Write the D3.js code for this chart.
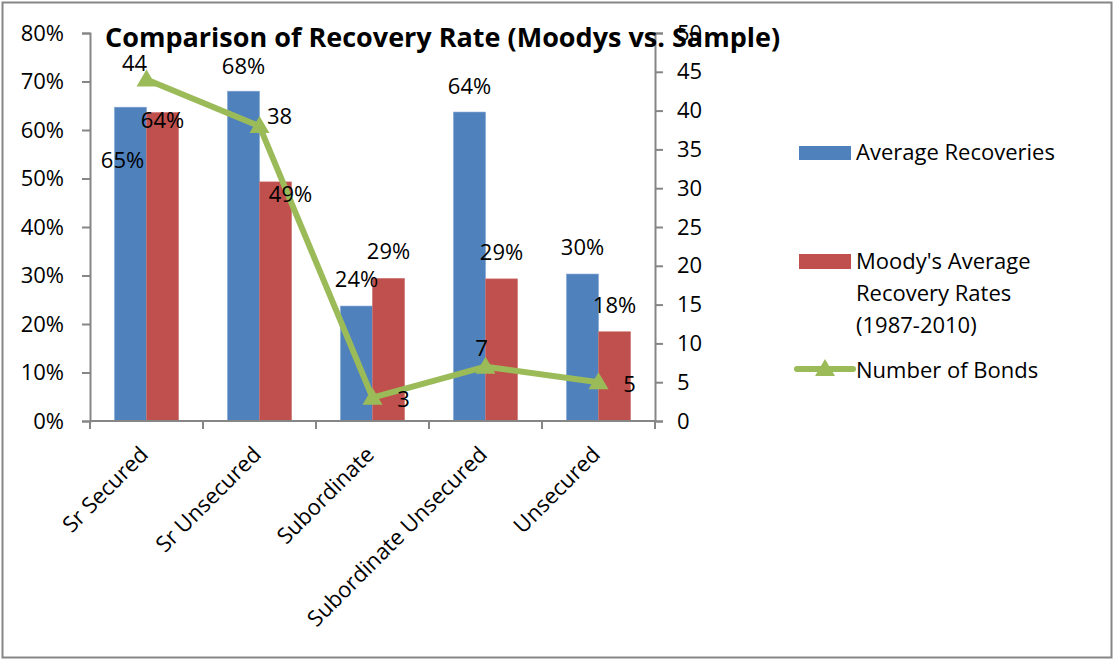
<!DOCTYPE html>
<html>
<head>
<meta charset="utf-8">
<script src="https://cdn.jsdelivr.net/npm/d3@7"></script>
<style>
  html, body { margin: 0; padding: 0; background: #fff; }
  svg text { font-family: "Open Sans", "Noto Sans", sans-serif; fill: #000; }
</style>
</head>
<body>
<svg id="chart" width="1114" height="660"></svg>
<script>
// ---- data ----
const categories = ["Sr Secured", "Sr Unsecured", "Subordinate", "Subordinate Unsecured", "Unsecured"];
const averageRecoveries = [0.647, 0.680, 0.237, 0.637, 0.303];
const moodysRates = [0.636, 0.493, 0.294, 0.293, 0.184];
const numberOfBonds = [44, 38, 3, 7, 5];
const leftTicks = [0, 0.1, 0.2, 0.3, 0.4, 0.5, 0.6, 0.7, 0.8];
const rightTicks = [0, 5, 10, 15, 20, 25, 30, 35, 40, 45, 50];
const seriesNames = ["Average Recoveries", "Moody's Average Recovery Rates (1987-2010)", "Number of Bonds"];
const titleText = "Comparison of Recovery Rate (Moodys vs. Sample)";

// ---- label placement (offsets from the mark, Excel-like positions) ----
const blueLabelOffset = [[-8, 61], [0, -17], [0, -19], [0, -18], [0, -19]];
const redLabelOffset = [[0, 15], [15, 20], [0, -19], [0, -19], [0, -19]];
const lineLabelOffset = [[-12, -9], [20, -2], [31, 9], [-4, -11], [31, 10]];

const svg = d3.select("#chart");
const colors = { blue: "#4F81BD", red: "#C0504D", green: "#9BBB59", axis: "#868686" };

// outer border
svg.append("rect").attr("x", 2.5).attr("y", 2.5).attr("width", 1109).attr("height", 655)
  .attr("fill", "#fff").attr("stroke", colors.axis).attr("stroke-width", 2);

const plot = { left: 90, right: 655, top: 33, bottom: 421 };

const x = d3.scaleBand().domain(categories).range([plot.left, plot.right]).paddingInner(0).paddingOuter(0);
const yL = d3.scaleLinear().domain([0, 0.8]).range([plot.bottom, plot.top]);
const yR = d3.scaleLinear().domain([0, 50]).range([plot.bottom, plot.top]);

const fs = 22;

// bars
const barW = 32;
function barX(i, k) { return x(categories[i]) + x.bandwidth() / 2 - barW + k * barW; }

const gBars = svg.append("g");
[averageRecoveries, moodysRates].forEach((arr, k) => {
  gBars.selectAll(null).data(arr).enter().append("rect")
    .attr("x", (d, i) => barX(i, k))
    .attr("y", d => yL(d))
    .attr("width", barW)
    .attr("height", d => plot.bottom - yL(d))
    .attr("fill", k === 0 ? colors.blue : colors.red)
    .attr("stroke", k === 0 ? "#7FA3D0" : "#C9706D")
    .attr("stroke-width", 0.6);
});

// left axis
const axL = d3.axisLeft(yL).tickValues(leftTicks).tickFormat(d3.format(".0%")).tickSize(8).tickPadding(18);
const gL = svg.append("g").attr("transform", `translate(${plot.left},0)`).call(axL);
// right axis
const axR = d3.axisRight(yR).tickValues(rightTicks).tickSize(8).tickPadding(14);
const gR = svg.append("g").attr("transform", `translate(${plot.right},0)`).call(axR);
// bottom axis
const axB = d3.axisBottom(x).tickValues([]).tickSizeOuter(0);
const gB = svg.append("g").attr("transform", `translate(0,${plot.bottom})`).call(axB);
// category boundary ticks
gB.selectAll("line.bt").data(d3.range(categories.length + 1)).enter().append("line")
  .attr("class", "bt")
  .attr("x1", i => plot.left + i * x.step()).attr("x2", i => plot.left + i * x.step())
  .attr("y1", 0).attr("y2", 8).attr("stroke", colors.axis).attr("stroke-width", 2);

[gL, gR, gB].forEach(g => {
  g.selectAll(".domain").attr("stroke", colors.axis).attr("stroke-width", 2);
  g.selectAll(".tick line").attr("stroke", colors.axis).attr("stroke-width", 2);
  g.selectAll(".tick text").attr("font-size", fs).attr("font-family", "Open Sans").attr("fill", "#000");
});
gB.select(".domain").attr("d", `M${plot.left},0H${plot.right}`);

// category labels
svg.append("g").selectAll("text").data(categories).enter().append("text")
  .attr("transform", d => `translate(${x(d) + x.bandwidth() / 2 + 3},456) rotate(-45)`)
  .attr("text-anchor", "end")
  .attr("font-size", fs)
  .text(d => d);

// line series
const cx = i => x(categories[i]) + x.bandwidth() / 2;
const line = d3.line().x((d, i) => cx(i)).y(d => yR(d));
svg.append("path").datum(numberOfBonds).attr("d", line)
  .attr("fill", "none").attr("stroke", colors.green).attr("stroke-width", 6)
  .attr("stroke-linejoin", "round");
const tri = "M0,-10L10,7L-10,7Z";
svg.append("g").selectAll("path").data(numberOfBonds).enter().append("path")
  .attr("d", tri)
  .attr("transform", (d, i) => `translate(${cx(i)},${yR(d)})`)
  .attr("fill", colors.green);

// data labels
const pct = d3.format(".0%");
const gLab = svg.append("g").attr("font-size", fs).attr("text-anchor", "middle");
gLab.selectAll("text.b").data(averageRecoveries).enter().append("text")
  .attr("x", (d, i) => barX(i, 0) + barW / 2 + blueLabelOffset[i][0])
  .attr("y", (d, i) => yL(d) + blueLabelOffset[i][1])
  .text(d => pct(d));
gLab.selectAll("text.r").data(moodysRates).enter().append("text")
  .attr("x", (d, i) => barX(i, 1) + barW / 2 + redLabelOffset[i][0])
  .attr("y", (d, i) => yL(d) + redLabelOffset[i][1])
  .text(d => pct(d));
gLab.selectAll("text.n").data(numberOfBonds).enter().append("text")
  .attr("x", (d, i) => cx(i) + lineLabelOffset[i][0])
  .attr("y", (d, i) => yR(d) + lineLabelOffset[i][1])
  .text(d => d);

// title
svg.append("text").attr("x", 105).attr("y", 47).attr("font-size", 27).attr("font-weight", "bold")
  .text(titleText);

// legend
const lg = svg.append("g");
lg.append("rect").attr("x", 799).attr("y", 146).attr("width", 52).attr("height", 14).attr("fill", colors.blue);
lg.append("text").attr("x", 856).attr("y", 160).attr("font-size", fs).text(seriesNames[0]);
lg.append("rect").attr("x", 799).attr("y", 254).attr("width", 52).attr("height", 15).attr("fill", colors.red);
const wrapLines = ["Moody's Average", "Recovery Rates", "(1987-2010)"];
lg.append("text").attr("x", 856).attr("y", 269).attr("font-size", fs)
  .selectAll("tspan").data(wrapLines).enter().append("tspan")
  .attr("x", 856).attr("dy", (d, i) => i === 0 ? 0 : 32).text(d => d);
lg.append("line").attr("x1", 797).attr("x2", 853).attr("y1", 369).attr("y2", 369)
  .attr("stroke", colors.green).attr("stroke-width", 6).attr("stroke-linecap", "round");
lg.append("path").attr("d", tri).attr("transform", "translate(825,369)").attr("fill", colors.green);
lg.append("text").attr("x", 856).attr("y", 378).attr("font-size", fs).text(seriesNames[2]);
</script>
</body>
</html>
